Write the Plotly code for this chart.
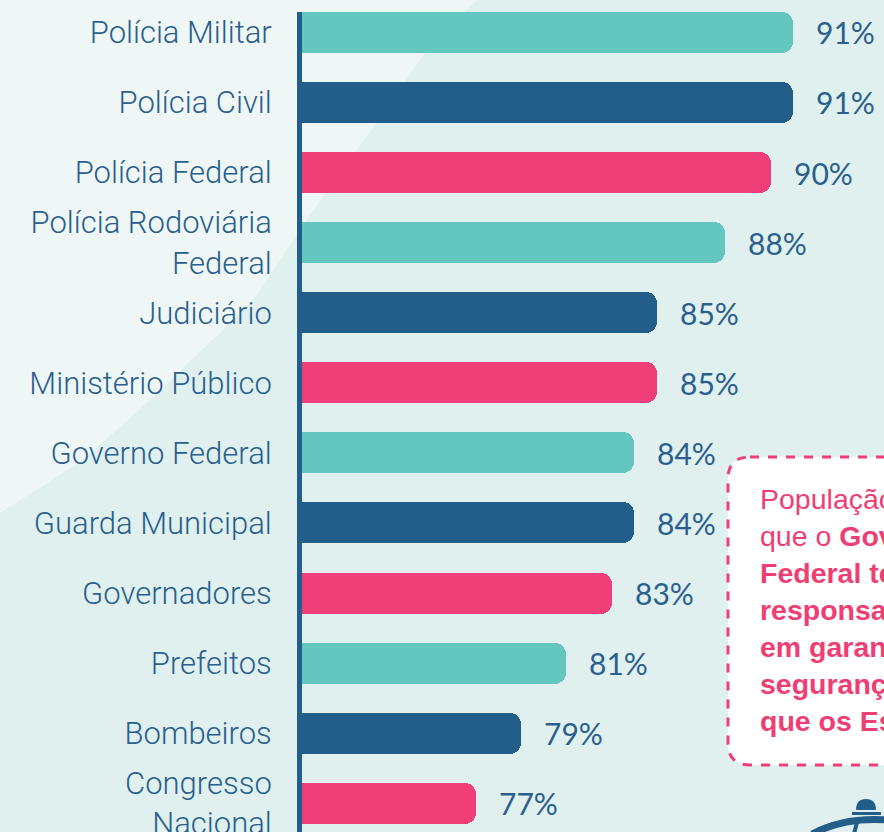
import plotly.graph_objects as go

categories = [
    "Polícia Militar", "Polícia Civil", "Polícia Federal", "Polícia Rodoviária<br>Federal",
    "Judiciário", "Ministério Público", "Governo Federal", "Guarda Municipal",
    "Governadores", "Prefeitos", "Bombeiros", "Congresso<br>Nacional",
]
values = [91, 91, 90, 88, 85, 85, 84, 84, 83, 81, 79, 77]
value_labels = ["91%", "91%", "90%", "88%", "85%", "85%", "84%", "84%", "83%", "81%", "79%", "77%"]

TEAL = "#63C6BF"
NAVY = "#235E8A"
PINK = "#EF3E78"
TEXT = "#2A5F8E"
bar_colors = [TEAL, NAVY, PINK] * 4

FIG_W, FIG_H = 884, 832
L, T = 302, 12
W = FIG_W - L
H = FIG_H - T


def px(x):
    return (x - L) / W


def py(y):
    return (T + H - y) / H


fig = go.Figure()
fig.add_trace(go.Bar(
    x=values,
    y=list(range(len(categories))),
    orientation="h",
    marker=dict(color=bar_colors, line=dict(width=0), cornerradius=11),
    width=0.585,
    hoverinfo="skip",
))

annotations = []
for i, (v, lab) in enumerate(zip(values, value_labels)):
    annotations.append(dict(
        x=v, y=i, xref="x", yref="y", text=lab, showarrow=False,
        xanchor="left", yanchor="middle", xshift=21,
        font=dict(family="Lato, Open Sans, sans-serif", size=30, color=TEXT, weight=400),
    ))

box_text = ("População acredita<br>que o <b>Governo</b><br><b>Federal tem mais</b><br>"
            "<b>responsabilidade</b><br><b>em garantir a</b><br><b>segurança pública</b><br>"
            "<b>que os Estados</b>")
annotations.append(dict(
    x=px(758), y=py(610), xref="paper", yref="paper", text=box_text,
    showarrow=False, xanchor="left", yanchor="middle", align="left",
    font=dict(family="Liberation Sans, Arial, sans-serif", size=28.5, color="#EE3E74"),
))

# light diagonal background area (top-left)
curve = [(477, 0), (427, 50), (373, 127), (310, 215), (253, 300), (233, 320),
         (150, 400), (83, 460), (0, 513)]
path = f"M {px(0)},{py(0)} " + " ".join(f"L {px(a)},{py(b)}" for a, b in curve) + " Z"

# dashed rounded box
x0, x1, y0, y1, r = 728, 930, 457, 765, 22
box = (f"M {px(x0 + r)},{py(y0)} L {px(x1)},{py(y0)} L {px(x1)},{py(y1)} "
       f"L {px(x0 + r)},{py(y1)} Q {px(x0)},{py(y1)} {px(x0)},{py(y1 - r)} "
       f"L {px(x0)},{py(y0 + r)} Q {px(x0)},{py(y0)} {px(x0 + r)},{py(y0)} Z")

# logo fragments (bottom right)
dome = (f"M {px(856)},{py(810)} Q {px(856)},{py(799)} {px(866)},{py(799)} "
        f"Q {px(876)},{py(799)} {px(876)},{py(810)} Z")
arc = f"M {px(812)},{py(834)} Q {px(845)},{py(817)} {px(886)},{py(820)}"

shapes = [
    dict(type="path", path=path, xref="paper", yref="paper", fillcolor="#EEF7F6",
         line=dict(width=0), layer="below"),
    dict(type="path", path=box, xref="paper", yref="paper", fillcolor="white",
         line=dict(color=PINK, width=3, dash="dash"), layer="below"),
    dict(type="path", path=dome, xref="paper", yref="paper", fillcolor=NAVY,
         line=dict(width=0)),
    dict(type="line", x0=px(852), x1=px(881), y0=py(813.5), y1=py(813.5),
         xref="paper", yref="paper", line=dict(color=NAVY, width=3)),
    dict(type="path", path=arc, xref="paper", yref="paper",
         line=dict(color=NAVY, width=7)),
    dict(type="line", x0=px(858), x1=px(854), y0=py(818), y1=py(834),
         xref="paper", yref="paper", line=dict(color=NAVY, width=4)),
]

fig.update_layout(
    width=FIG_W, height=FIG_H,
    margin=dict(l=L, r=0, t=T, b=0, pad=0, autoexpand=False),
    paper_bgcolor="#DFF0EF",
    plot_bgcolor="rgba(0,0,0,0)",
    showlegend=False,
    bargap=0,
    xaxis=dict(range=[69.35, 95.0], showgrid=False, zeroline=False,
               showticklabels=False, showline=False, fixedrange=True),
    yaxis=dict(
        range=[11.41, -0.29], tickmode="array",
        tickvals=list(range(len(categories))), ticktext=categories,
        showgrid=False, zeroline=False, ticks="", fixedrange=True,
        showline=True, linewidth=5, linecolor=NAVY,
        ticklabelstandoff=19, ticklabeloverflow="allow",
        tickfont=dict(family="Roboto, Liberation Sans, Arial, sans-serif", size=31,
                      color=TEXT, weight=300),
    ),
    annotations=annotations,
    shapes=shapes,
)

fig.write_html(
    "out.html",
    config={"displayModeBar": False},
    post_script="document.body.style.margin='0';document.body.style.background='#DFF0EF';",
)
